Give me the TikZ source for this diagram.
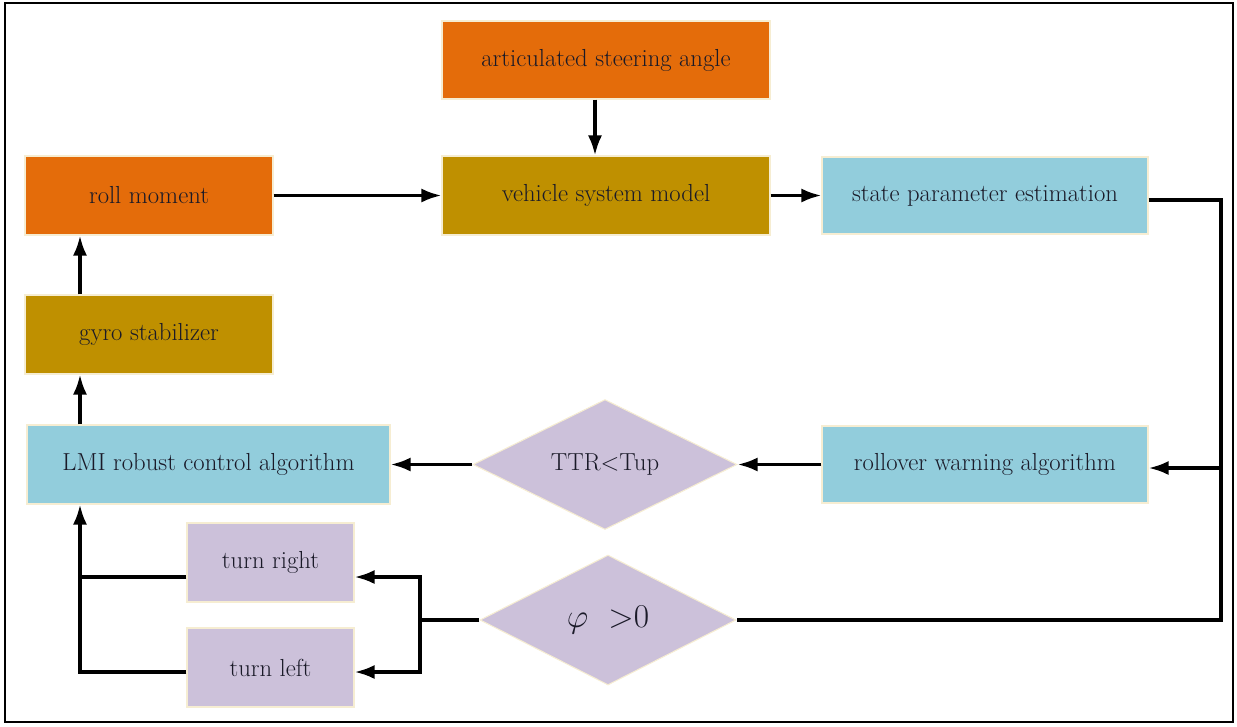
\documentclass[tikz,border=0pt]{standalone}
\usepackage{fix-cm}
\usetikzlibrary{shapes.geometric,arrows.meta}
\definecolor{cOrange}{HTML}{E46C0A}
\definecolor{cGold}{HTML}{BF9000}
\definecolor{cBlue}{HTML}{92CDDC}
\definecolor{cLav}{HTML}{CCC1DA}
\definecolor{cText}{HTML}{1A1A28}
\definecolor{cEdge}{HTML}{F6EDD2}
\tikzset{
  box/.style={rectangle, draw=cEdge, line width=0.8pt, inner sep=0pt, text=cText,
    font=\fontsize{18.5}{22}\selectfont},
  dec/.style={diamond, draw=cEdge, line width=0.8pt, inner sep=0pt, fill=cLav, text=cText,
    font=\fontsize{18.5}{22}\selectfont},
  conn/.style={line width=2.5pt, draw=black},
  arr/.style={conn, -{Latex[length=15pt,width=10.5pt]}},
}
\begin{document}
\begin{tikzpicture}[x=0.75pt,y=-0.75pt]
\path[use as bounding box] (0,0) rectangle (1237,726);
\draw[line width=1.8pt] (5,3) rectangle (1233,722);
% nodes
\node[box, fill=cOrange, minimum width=328*0.75pt, minimum height=78*0.75pt] (art) at (606,60) {articulated steering angle};
\node[box, fill=cGold, minimum width=328*0.75pt, minimum height=79*0.75pt] (veh) at (606,195.5) {vehicle system model};
\node[box, fill=cOrange, minimum width=248*0.75pt, minimum height=79*0.75pt] (roll) at (149,195.5) {roll moment};
\node[box, fill=cBlue, minimum width=326*0.75pt, minimum height=77*0.75pt] (state) at (985,195.5) {state parameter estimation};
\node[box, fill=cGold, minimum width=248*0.75pt, minimum height=79*0.75pt] (gyro) at (149,334.5) {gyro stabilizer};
\node[box, fill=cBlue, minimum width=363*0.75pt, minimum height=79*0.75pt] (lmi) at (208.5,464.5) {LMI robust control algorithm};
\node[box, fill=cBlue, minimum width=326*0.75pt, minimum height=77*0.75pt] (roll2) at (985,464.5) {rollover warning algorithm};
\node[box, fill=cLav, minimum width=167*0.75pt, minimum height=79*0.75pt] (tr) at (270.5,562.5) {turn right};
\node[box, fill=cLav, minimum width=167*0.75pt, minimum height=79*0.75pt] (tl) at (270.5,667.5) {turn left};
\node[dec, minimum width=264*0.75pt, minimum height=128*0.75pt] (ttr) at (605,464.5) {TTR$<$Tup};
\node[dec, minimum width=256*0.75pt, minimum height=130*0.75pt, font=\fontsize{25}{28}\selectfont] (phi) at (608,620) {$\varphi$\ \ $>$0};
% junction coordinates
\coordinate (jR) at (1221,200);
\coordinate (jPhi) at (420,620);
\coordinate (jL) at (80,672);
% connectors
\draw[arr] (art.south -| 595,0) -- (veh.north -| 595,0);
\draw[arr] (roll.east) -- (veh.west);
\draw[arr] (veh.east) -- (state.west);
\draw[conn] (state.east |- jR) -- (jR) |- (phi.east);
\draw[arr] (jR |- 0,468) -- (roll2.east |- 0,468);
\draw[arr] (roll2.west) -- (ttr.east);
\draw[arr] (ttr.west) -- (lmi.east);
\draw[arr] (lmi.north -| jL) -- (gyro.south -| jL);
\draw[arr] (gyro.north -| jL) -- (roll.south -| jL);
\draw[conn] (phi.west) -- (jPhi);
\draw[arr] (jPhi) |- (tr.east |- 0,577);
\draw[arr] (jPhi) |- (tl.east |- 0,672);
\draw[conn] (tr.west |- 0,577) -- (jL |- 0,577);
\draw[arr] (tl.west |- jL) -- (jL) -- (lmi.south -| jL);
\end{tikzpicture}
\end{document}
